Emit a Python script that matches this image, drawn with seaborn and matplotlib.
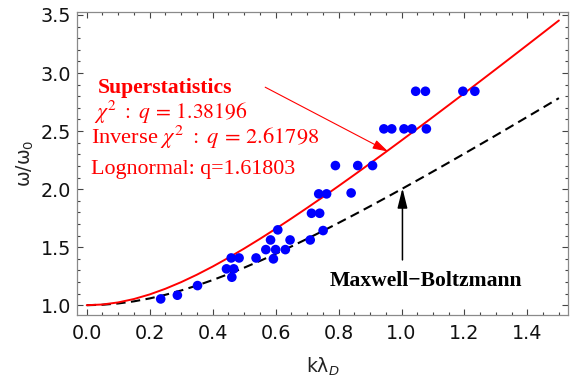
import matplotlib
matplotlib.use("Agg")
import matplotlib.pyplot as plt
import seaborn as sns
import pandas as pd
from matplotlib.ticker import MultipleLocator, FormatStrFormatter

# ---- data ----
k_data = [0.235, 0.288, 0.352, 0.444, 0.459, 0.467, 0.461, 0.484, 0.538, 0.569,
          0.584, 0.600, 0.593, 0.607, 0.631, 0.646, 0.710, 0.714, 0.740, 0.737,
          0.762, 0.751, 0.790, 0.840, 0.861, 0.908, 0.944, 0.969, 1.008, 1.033,
          1.079, 1.045, 1.076, 1.195, 1.233]
omega_data = [1.054, 1.086, 1.169, 1.313, 1.407, 1.313, 1.241, 1.407, 1.407, 1.479,
              1.562, 1.479, 1.399, 1.649, 1.479, 1.562, 1.562, 1.792, 1.792, 1.959,
              1.959, 1.643, 2.203, 1.967, 2.203, 2.203, 2.519, 2.519, 2.519, 2.519,
              2.519, 2.843, 2.843, 2.843, 2.843]

k_curve = [0.00, 0.05, 0.10, 0.15, 0.20, 0.25, 0.30, 0.35, 0.40, 0.45, 0.50,
           0.55, 0.60, 0.65, 0.70, 0.75, 0.80, 0.85, 0.90, 0.95, 1.00,
           1.05, 1.10, 1.15, 1.20, 1.25, 1.30, 1.35, 1.40, 1.45, 1.50]
omega_super = [1.0000, 1.0060, 1.0240, 1.0532, 1.0928, 1.1417, 1.1987, 1.2628, 1.3329,
               1.4082, 1.4878, 1.5711, 1.6575, 1.7467, 1.8381, 1.9314, 2.0265, 2.1230,
               2.2208, 2.3196, 2.4195, 2.5202, 2.6217, 2.7239, 2.8266, 2.9299, 3.0337,
               3.1379, 3.2425, 3.3475, 3.4528]
omega_mb = [1.0000, 1.0037, 1.0149, 1.0332, 1.0583, 1.0897, 1.1269, 1.1694, 1.2166,
            1.2679, 1.3229, 1.3811, 1.4422, 1.5058, 1.5716, 1.6394, 1.7088, 1.7797,
            1.8520, 1.9255, 2.0000, 2.0755, 2.1517, 2.2288, 2.3065, 2.3848, 2.4637,
            2.5431, 2.6230, 2.7032, 2.7839]

label_super = "Superstatistics"
label_chi = r"$\chi^2\ :\ q\,=\,1.38196$"
label_inv = r"Inverse $\chi^2\ :\ q\,=\,2.61798$"
label_logn = "Lognormal: q=1.61803"
label_mb = "Maxwell\u2212Boltzmann"

df_pts = pd.DataFrame({"k": k_data, "w": omega_data})
df_curve = pd.DataFrame({"k": k_curve, "sup": omega_super, "mb": omega_mb})

sns.set_theme(style="ticks")
plt.rcParams["font.family"] = ["DejaVu Sans"]

fig = plt.figure(figsize=(5.72, 3.79), dpi=100)
ax = fig.add_axes([0.134, 0.169, 0.8596, 0.800])

sns.lineplot(data=df_curve, x="k", y="mb", ax=ax, color="black", lw=1.5,
             linestyle=(0, (4.5, 2.6)), estimator=None, sort=False, zorder=2)
sns.lineplot(data=df_curve, x="k", y="sup", ax=ax, color="#ff0000", lw=1.4,
             estimator=None, sort=False, zorder=2)
sns.scatterplot(data=df_pts, x="k", y="w", ax=ax, color="#0000ff", s=48,
                edgecolor="none", linewidth=0, zorder=3)

ax.set_xlim(-0.032, 1.530)
ax.set_ylim(0.916, 3.528)

ax.xaxis.set_major_locator(MultipleLocator(0.2))
ax.xaxis.set_minor_locator(MultipleLocator(0.05))
ax.yaxis.set_major_locator(MultipleLocator(0.5))
ax.yaxis.set_minor_locator(MultipleLocator(0.1))
ax.xaxis.set_major_formatter(FormatStrFormatter("%.1f"))
ax.yaxis.set_major_formatter(FormatStrFormatter("%.1f"))

ax.tick_params(which="both", direction="in", top=True, right=True,
               color="#444444", width=0.8)
ax.tick_params(which="major", length=4.0, labelsize=13.8, labelcolor="#111111")
ax.tick_params(which="minor", length=2.4)
ax.tick_params(axis="x", which="major", pad=6.5)
ax.tick_params(axis="y", which="major", pad=4)
for sp in ax.spines.values():
    sp.set_color("#8a8a8a")
    sp.set_linewidth(0.9)

ax.set_xlabel("k\u03bb$_D$", fontsize=13.5, color="#222222")
ax.set_ylabel("\u03c9/\u03c9$_0$", fontsize=13.5, color="#222222")
ax.xaxis.set_label_coords(0.5, -0.135)
ax.yaxis.set_label_coords(-0.083, 0.5)

serif = ["Liberation Serif", "DejaVu Serif"]
ax.text(0.034, 2.826, label_super, color="#ff0000", fontsize=15.6, fontweight="bold",
        family=serif, ha="left", va="baseline")
ax.text(0.024, 2.607, label_chi, color="#ff0000", fontsize=15.6, family=serif,
        math_fontfamily="stix", ha="left", va="baseline")
ax.text(0.0137, 2.389, label_inv, color="#ff0000", fontsize=16.2, family=serif,
        math_fontfamily="stix", ha="left", va="baseline")
ax.text(0.0137, 2.128, label_logn, color="#ff0000", fontsize=15.8, family=serif,
        ha="left", va="baseline")
ax.text(0.771, 1.166, label_mb, color="black", fontsize=15.6, fontweight="bold",
        family=serif, ha="left", va="baseline")

ax.annotate("", xy=(0.958, 2.323), xytext=(0.567, 2.878),
            arrowprops=dict(arrowstyle="-|>,head_length=0.95,head_width=0.28",
                            color="#ff0000", lw=0.8, mutation_scale=10,
                            shrinkA=0, shrinkB=0), zorder=4)
ax.annotate("", xy=(1.003, 2.008), xytext=(1.003, 1.390),
            arrowprops=dict(arrowstyle="-|>,head_length=1.2,head_width=0.3",
                            color="black", lw=1.1, mutation_scale=10,
                            shrinkA=0, shrinkB=0), zorder=4)

fig.savefig("out.png", dpi=100)
